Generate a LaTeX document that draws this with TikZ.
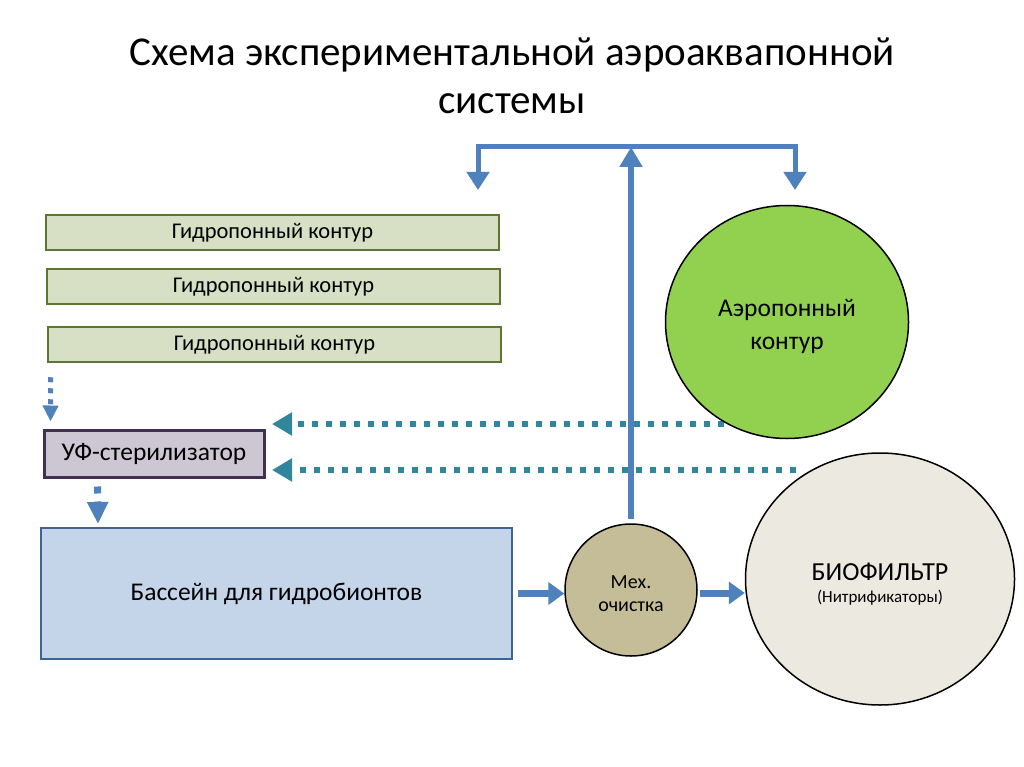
\documentclass[tikz,border=0pt]{standalone}
\usepackage{fontspec}
\setmainfont{Carlito}
\usetikzlibrary{arrows.meta,shapes.geometric,calc}
\definecolor{hydrofill}{RGB}{215,224,196}
\definecolor{hydroline}{RGB}{95,117,50}
\definecolor{uvfill}{RGB}{205,199,212}
\definecolor{uvline}{RGB}{64,49,82}
\definecolor{poolfill}{RGB}{196,213,234}
\definecolor{poolline}{RGB}{60,100,150}
\definecolor{mechfill}{RGB}{196,189,151}
\definecolor{biofill}{RGB}{236,234,224}
\definecolor{aerofill}{RGB}{146,208,80}
\definecolor{flowblue}{RGB}{79,129,189}
\definecolor{flowteal}{RGB}{49,133,156}
\tikzset{
  hydrobox/.style={draw=hydroline,fill=hydrofill,line width=2.5pt,minimum width=453pt,minimum height=35pt,inner sep=0pt,font=\fontsize{22.5}{26}\selectfont},
  uvbox/.style={draw=uvline,fill=uvfill,line width=3pt,minimum width=220pt,minimum height=47pt,inner sep=0pt,font=\fontsize{25.5}{30}\selectfont},
  poolbox/.style={draw=poolline,fill=poolfill,line width=2pt,minimum width=471pt,minimum height=131pt,inner sep=0pt,font=\fontsize{25.5}{30}\selectfont},
  blob/.style={draw=black,line width=1.5pt,ellipse,inner sep=0pt},
  blobtext/.style={align=center,inner sep=0pt},
  thickflow/.style={draw=flowblue,line width=7pt,-{Triangle[length=16pt,width=22pt]}},
  teeflow/.style={draw=flowblue,line width=5pt,line join=miter},
  dotflow/.style={draw=flowteal,line width=6pt,dash pattern=on 6pt off 8pt,-{Triangle[length=20pt,width=22pt]}},
  smalldot/.style={draw=flowblue,line width=5pt,dash pattern=on 5pt off 6pt,-{Triangle[length=16pt,width=15pt]}},
  smalldotb/.style={draw=flowblue,line width=7pt,dash pattern=on 7pt off 8pt,-{Triangle[length=22pt,width=20pt]}},
}
\begin{document}
\begin{tikzpicture}[x=1pt,y=-1pt]
\useasboundingbox (0,0) rectangle (1024,767);
\fill[white] (0,0) rectangle (1024,767);

\node[align=center,font=\fontsize{41}{48}\selectfont] (title) at (512,76) {Схема экспериментальной аэроаквапонной\\системы};

% dotted return lines (under circles)
\coordinate (d1s) at (724,424);
\coordinate (d1e) at (272,424);
\coordinate (d2s) at (796,470);
\coordinate (d2e) at (272,470);
\draw[dotflow] (d1s) -- (d1e);
\draw[dotflow] (d2s) -- (d2e);

\node[hydrobox] (h1) at (272.5,232.5) {Гидропонный контур};
\node[hydrobox] (h2) at (273.5,286.5) {Гидропонный контур};
\node[hydrobox] (h3) at (274.5,344.5) {Гидропонный контур};
\node[uvbox] (uv) at (154,453.5) {УФ-стерилизатор};
\node[poolbox] (pool) at (276.5,593.5) {Бассейн для гидробионтов};

\node[blob,fill=mechfill,minimum width=132pt,minimum height=132pt] (mech) at (631,590) {};
\node[blobtext,font=\fontsize{20}{23}\selectfont] (mecht) at ($(mech.center)+(0,4)$) {Мех.\\очистка};
\node[blob,fill=biofill,minimum width=269pt,minimum height=252pt] (bio) at (880,579) {};
\node[blobtext] (biot) at ($(bio.center)+(0,5)$) {{\fontsize{26}{28}\selectfont БИОФИЛЬТР}\\[9pt]{\fontsize{17}{20}\selectfont (Нитрификаторы)}};
\node[blob,fill=aerofill,minimum width=243pt,minimum height=233pt] (aero) at (787,322) {};
\node[blobtext,font=\fontsize{25.5}{33}\selectfont] (aerot) at ($(aero.center)+(0,4)$) {Аэропонный\\контур};

% small vertical dotted arrows
\draw[smalldot] ($(h3.south west)+(4,14)$) -- ($(uv.north west)+(8,-7)$);
\draw[smalldotb] ($(uv.south west)+(55,8)$) -- ($(pool.north west)+(58,-3)$);

% main flow
\draw[thickflow] ($(pool.east)+(5,0)$) -- (pool.east -| mech.west);
\draw[thickflow] ($(mech.east)+(2,3)$) -- ($(mech.east -| bio.west)+(0,3)$);

\coordinate (tl) at (478,147);
\coordinate (tr) at (795,147);
\coordinate (tld) at (478,190);
\coordinate (trd) at (795,190);
\draw[teeflow,{Triangle[length=18pt,width=22pt]}-{Triangle[length=18pt,width=22pt]}] (tld) -- (tl) -- (tr) -- (trd);
\draw[draw=flowblue,line width=6pt,-{Triangle[length=20pt,width=22pt]}] ($(mech.north)+(0,-4)$) -- (mech.north |- tl);
\end{tikzpicture}
\end{document}
